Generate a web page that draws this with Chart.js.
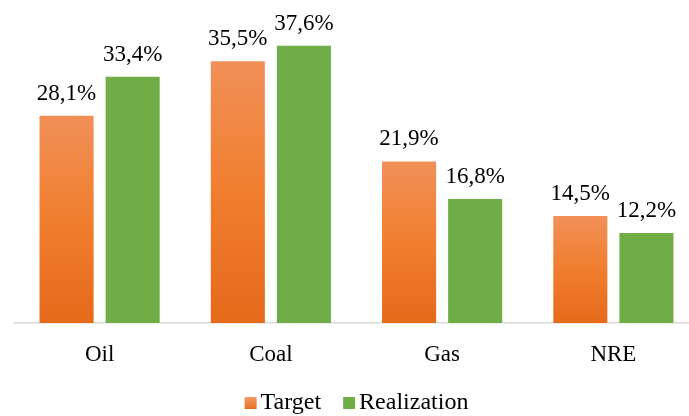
<!DOCTYPE html>
<html>
<head>
<meta charset="utf-8">
<script src="https://cdn.jsdelivr.net/npm/chart.js@4.4.0/dist/chart.umd.min.js"></script>
<style>
  html, body { margin: 0; padding: 0; background: #fff; overflow: hidden; }
  #wrap { width: 699px; height: 416px; }
</style>
</head>
<body>
<div id="wrap"><canvas id="chart" width="699" height="416"></canvas></div>
<script>
// data
const categories = ["Oil", "Coal", "Gas", "NRE"];
const targetValues = [28.1, 35.5, 21.9, 14.5];
const realizationValues = [33.4, 37.6, 16.8, 12.2];

const FONT = "'Liberation Serif', 'Times New Roman', serif";
Chart.defaults.font.family = FONT;
Chart.defaults.color = "#000";

// orange bars fade lighter towards the top, like the original
function orangeGradient(ctx) {
  const chart = ctx.chart;
  const yScale = chart.scales.y;
  if (!chart.chartArea || !yScale || ctx.type !== "data") return "#ED7D31";
  const top = yScale.getPixelForValue(ctx.raw);
  const base = yScale.getPixelForValue(0);
  const g = chart.ctx.createLinearGradient(0, top, 0, base);
  g.addColorStop(0, "#F19058");
  g.addColorStop(0.5, "#F07E2E");
  g.addColorStop(1, "#E56A1A");
  return g;
}

// legend marker: small square sitting at the right of a wider transparent image,
// so the text ends up close to the square (chart.js leaves half a font size otherwise)
function legendMarker(top, bottom) {
  const c = document.createElement("canvas");
  c.width = 28;
  c.height = 12;
  const cx = c.getContext("2d");
  const g = cx.createLinearGradient(0, 0, 0, 12);
  g.addColorStop(0, top);
  g.addColorStop(1, bottom);
  cx.fillStyle = g;
  cx.fillRect(12, 0, 12, 12);
  return c;
}

// values above the bars, with comma decimals
const valueLabels = {
  id: "valueLabels",
  afterDatasetsDraw(chart) {
    const ctx = chart.ctx;
    ctx.save();
    ctx.font = "23px " + FONT;
    ctx.fillStyle = "#000";
    ctx.textAlign = "center";
    ctx.textBaseline = "alphabetic";
    chart.data.datasets.forEach((ds, i) => {
      chart.getDatasetMeta(i).data.forEach((bar, j) => {
        const txt = ds.data[j].toFixed(1).replace(".", ",") + "%";
        ctx.fillText(txt, bar.x, bar.y - 16);
      });
    });
    ctx.restore();
  }
};

const markers = [legendMarker("#F29A66", "#E8701F"), legendMarker("#70AD47", "#70AD47")];

new Chart(document.getElementById("chart"), {
  type: "bar",
  data: {
    labels: categories,
    datasets: [
      { label: "Target", data: targetValues, backgroundColor: orangeGradient,
        categoryPercentage: 0.772, barPercentage: 0.818 },
      { label: "Realization", data: realizationValues, backgroundColor: "#70AD47",
        categoryPercentage: 0.772, barPercentage: 0.818 }
    ]
  },
  options: {
    responsive: false,
    animation: false,
    layout: { padding: { left: 14, right: 0, top: 28, bottom: -9 } },
    plugins: {
      tooltip: { enabled: false },
      legend: {
        position: "bottom",
        align: "center",
        labels: {
          font: { family: FONT, size: 24, lineHeight: 1 },
          color: "#000",
          usePointStyle: true,
          boxWidth: 4,
          boxHeight: 12,
          padding: 22,
          generateLabels(chart) {
            return chart.data.datasets.map((ds, i) => ({
              text: ds.label,
              pointStyle: markers[i],
              fillStyle: "transparent",
              strokeStyle: "transparent",
              lineWidth: 0,
              datasetIndex: i
            }));
          }
        }
      }
    },
    scales: {
      x: {
        grid: { display: false, drawTicks: false },
        border: { display: true, color: "#D9D9D9", width: 1.5 },
        ticks: { font: { family: FONT, size: 23 }, color: "#000", padding: 18 },
        afterFit(scale) { scale.height -= 17.6; }
      },
      y: {
        display: false,
        min: 0,
        max: 40
      }
    }
  },
  plugins: [valueLabels]
});
</script>
</body>
</html>
